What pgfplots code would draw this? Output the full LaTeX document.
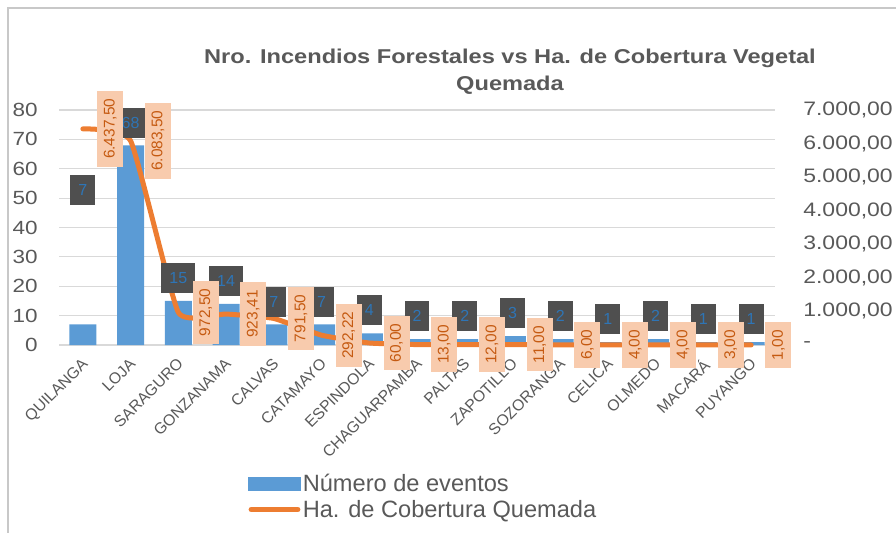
\documentclass[border=0pt]{standalone}
\usepackage{fontspec}
\setmainfont{Liberation Sans}
\usepackage{pgfplots}
\usepackage{pgfplotstable}
\pgfplotsset{compat=1.18}
\definecolor{textgray}{HTML}{595959}
\definecolor{gridgray}{HTML}{D9D9D9}
\definecolor{framegray}{HTML}{C8C8C8}
\definecolor{barblue}{HTML}{5B9BD5}
\definecolor{lineorange}{HTML}{ED7D31}
\definecolor{boxorange}{HTML}{F8CBAD}
\definecolor{txtorange}{HTML}{C55A11}
\definecolor{darkbox}{HTML}{4F4F4F}
\definecolor{labblue}{HTML}{2E75B6}

\pgfplotstableread{
idx n ha halab ly
0 7 6437.50 6.437,50 52.8
1 68 6083.50 6.083,50 75.7
2 15 972.50 972,50 22.8
3 14 923.41 923,41 21.8
4 7 791.50 791,50 14.8
5 7 292.22 292,22 14.8
6 4 60.00 60,00 11.8
7 2 13.00 13,00 9.8
8 2 12.00 12,00 9.8
9 3 11.00 11,00 10.8
10 2 6.00 6,00 9.8
11 1 4.00 4,00 8.8
12 2 4.00 4,00 9.8
13 1 3.00 3,00 8.8
14 1 1.00 1,00 8.8
}\datatable

\begin{document}
\color{textgray}%
\begin{tikzpicture}
\path[use as bounding box] (0,0) rectangle (672pt,-399pt);
\begin{scope}[x=0.75pt,y=-0.75pt]
\draw[framegray, line width=1pt] (8,8) rectangle (930,570);
\node[font=\bfseries\fontsize{15}{20.25}\selectfont, text=textgray, align=center, xscale=1.18] at (510,71.5) {Nro. Incendios Forestales vs Ha. de Cobertura Vegetal\\Quemada};
\end{scope}

\begin{axis}[
  at={(44.25pt,-258.75pt)}, anchor=south west,
  scale only axis, width=537pt, height=176.25pt,
  xmin=-0.5, xmax=14.5, ymin=0, ymax=80,
  ytick={0,10,...,80},
  xtick={0,...,14},
  xticklabels={QUILANGA,LOJA,SARAGURO,GONZANAMA,CALVAS,CATAMAYO,ESPINDOLA,CHAGUARPAMBA,PALTAS,ZAPOTILLO,SOZORANGA,CELICA,OLMEDO,MACARÁ,PUYANGO},
  xticklabel style={xshift=-1.5pt, yshift=-9pt, rotate=45, anchor=north east, inner sep=0pt, font=\fontsize{11.8}{13}\selectfont, text=textgray},
  yticklabel style={xshift=-15.75pt, anchor=east, xscale=1.18, inner sep=0pt, font=\fontsize{14.3}{17}\selectfont, text=textgray},
  /pgf/number format/assume math mode=true,
  ymajorgrids, grid style={draw=gridgray, line width=0.8pt},
  axis line style={draw=none},
  major tick length=0pt,
  clip=false,
]
\addplot[ybar, bar width=0.566, fill=barblue, draw=none] table[x=idx,y=n]{\datatable};
\end{axis}

\begin{axis}[
  at={(44.25pt,-258.75pt)}, anchor=south west,
  scale only axis, width=537pt, height=176.25pt,
  xmin=-0.5, xmax=14.5, ymin=0, ymax=7000,
  axis x line=none, axis y line*=right,
  y axis line style={draw=none},
  ytick={0,1000,...,7000},
  yticklabels={{-},{1.000,00},{2.000,00},{3.000,00},{4.000,00},{5.000,00},{6.000,00},{7.000,00}},
  yticklabel style={xshift=21pt, anchor=west, xscale=1.18, inner sep=0pt, font=\fontsize{14.6}{17}\selectfont, text=textgray},
  major tick length=0pt,
  clip=false,
  legend style={at={(0.264,-0.539)}, anchor=north west, draw=none, fill=none,
    font=\fontsize{17.7}{18}\selectfont, text=textgray, row sep=2pt, inner sep=0pt,
    nodes={inner sep=1.5pt}},
  legend cell align=left,
]
\addplot[lineorange, line width=3.75pt, smooth, tension=0.25, line cap=round, line join=round, forget plot] table[x=idx,y=ha]{\datatable};
\addplot[draw=none, forget plot, nodes near coords, point meta=explicit symbolic,
  nodes near coords style={anchor=center, fill=darkbox, text=labblue, font=\fontsize{12}{12}\selectfont, inner xsep=6pt, minimum height=22.5pt}]
  table[x=idx, y expr=\thisrow{ly}*87.5, meta=n]{\datatable};
\addplot[draw=none, forget plot, nodes near coords, point meta=explicit symbolic,
  nodes near coords style={xshift=10.5pt, yshift=0pt, rotate=90, anchor=north, fill=boxorange, text=txtorange, font=\fontsize{11.6}{12}\selectfont, inner xsep=6pt, minimum height=19.5pt}]
  table[x=idx, y=ha, meta=halab]{\datatable};
\addlegendimage{legend image code/.code={\fill[barblue] (0pt,-4.9pt) rectangle (39pt,4.9pt);}}
\addlegendentry{Número de eventos}
\addlegendimage{legend image code/.code={\draw[lineorange, line width=3.75pt, line cap=round] (1.9pt,0pt) -- (37pt,0pt);}}
\addlegendentry{Ha. de Cobertura Quemada}
\end{axis}
\end{tikzpicture}
\end{document}
